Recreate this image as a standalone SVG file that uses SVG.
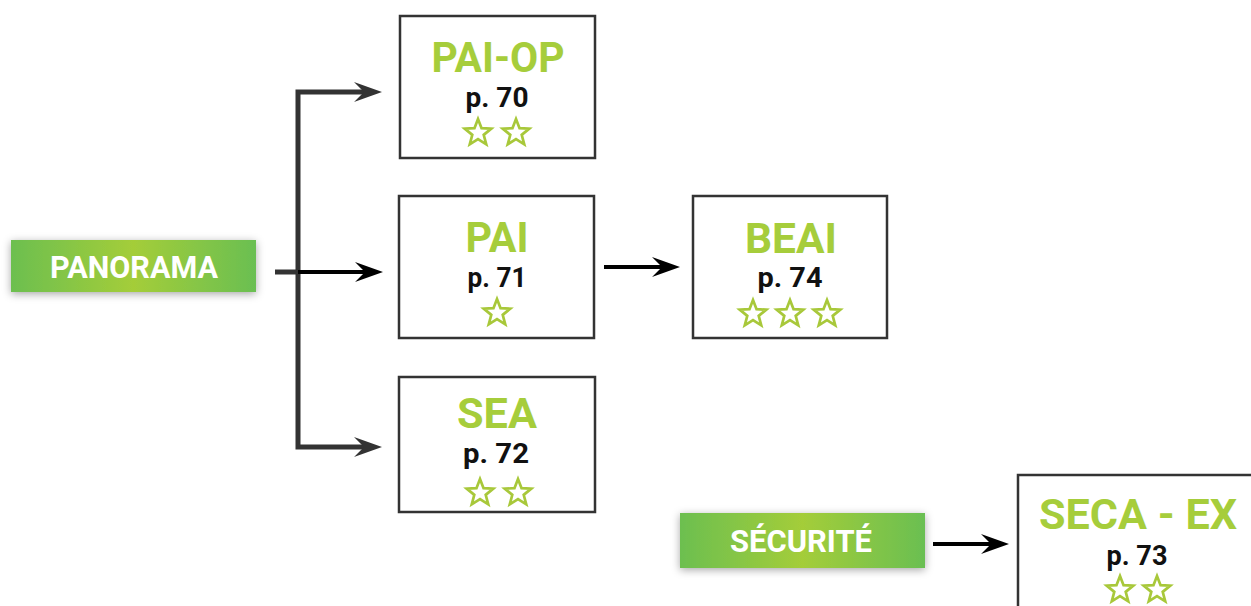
<svg xmlns="http://www.w3.org/2000/svg" width="1251" height="606" viewBox="0 0 1251 606">
<style>
.box{fill:#fff;stroke:#333;stroke-width:2.5}
.tag{fill:url(#g);filter:url(#sh)}
.tagt{font-family:Roboto,"Liberation Sans",sans-serif;font-weight:bold;font-size:32px;fill:#fff;text-anchor:middle}
.title{font-family:Roboto,"Liberation Sans",sans-serif;font-weight:bold;font-size:42px;fill:#a6cd3b;text-anchor:middle}
.pg{font-family:Roboto,"Liberation Sans",sans-serif;font-weight:bold;font-size:28px;fill:#111;text-anchor:middle}
.star{fill:none;stroke:#a8c83a;stroke-width:2.7;stroke-linejoin:miter}
.gl{fill:none;stroke:#333;stroke-width:5}
.bl{fill:none;stroke:#000;stroke-width:4}
</style>
<defs>
<linearGradient id="g" x1="0" y1="0" x2="1" y2="0">
<stop offset="0" stop-color="#6cbf50"/>
<stop offset="0.5" stop-color="#a4cd39"/>
<stop offset="1" stop-color="#6abf52"/>
</linearGradient>
<filter id="sh" x="-10%" y="-40%" width="120%" height="180%">
<feDropShadow dx="0" dy="2" stdDeviation="4" flood-color="#000" flood-opacity="0.35"/>
</filter>
<path id="st" class="star" d="M0,-14 L3.53,-4.85 L13.31,-4.33 L5.71,1.85 L8.23,11.33 L0,6 L-8.23,11.33 L-5.71,1.85 L-13.31,-4.33 L-3.53,-4.85 Z"/>
<marker id="ag" markerUnits="userSpaceOnUse" markerWidth="28" markerHeight="20" viewBox="0 0 28 20" refX="10" refY="10" orient="auto-start-reverse">
<path d="M0,0 L28,10 L0,20 L10,10 Z" fill="#333"/>
</marker>
<marker id="ab" markerUnits="userSpaceOnUse" markerWidth="28" markerHeight="20" viewBox="0 0 28 20" refX="10" refY="10" orient="auto">
<path d="M0,0 L28,10 L0,20 L10,10 Z" fill="#000"/>
</marker>
</defs>

<g id="connectors">
<path class="gl" d="M364,92 H298 V447 H364" marker-start="url(#ag)" marker-end="url(#ag)"/>
<path class="gl" d="M275,272 H298"/>
<path class="bl" d="M298,272 H365" marker-end="url(#ab)"/>
<path class="bl" d="M604,267 H662" marker-end="url(#ab)"/>
<path class="bl" d="M933,544 H991" marker-end="url(#ab)"/>
</g>

<g id="panorama">
<rect class="tag" x="11" y="240" width="245" height="52"/>
<text class="tagt" x="134" y="278" textLength="168" lengthAdjust="spacingAndGlyphs">PANORAMA</text>
</g>

<g id="securite">
<rect class="tag" x="680" y="513" width="245" height="55"/>
<text class="tagt" x="801" y="552" textLength="142" lengthAdjust="spacingAndGlyphs">SÉCURITÉ</text>
</g>

<g id="pai-op">
<rect class="box" x="400" y="16" width="195" height="142"/>
<text class="title" x="498" y="72" textLength="133" lengthAdjust="spacingAndGlyphs">PAI-OP</text>
<text class="pg" x="497" y="107" textLength="63" lengthAdjust="spacingAndGlyphs">p. 70</text>
<use href="#st" x="478" y="133"/>
<use href="#st" x="516" y="133"/>
</g>

<g id="pai">
<rect class="box" x="399" y="196" width="195" height="142"/>
<text class="title" x="497" y="252" textLength="63" lengthAdjust="spacingAndGlyphs">PAI</text>
<text class="pg" x="497" y="287" textLength="59" lengthAdjust="spacingAndGlyphs">p. 71</text>
<use href="#st" x="497" y="313"/>
</g>

<g id="sea">
<rect class="box" x="399" y="377" width="196" height="135"/>
<text class="title" x="497" y="428" textLength="80" lengthAdjust="spacingAndGlyphs">SEA</text>
<text class="pg" x="496" y="463" textLength="66" lengthAdjust="spacingAndGlyphs">p. 72</text>
<use href="#st" x="480" y="493"/>
<use href="#st" x="518" y="493"/>
</g>

<g id="beai">
<rect class="box" x="693" y="196" width="194" height="142"/>
<text class="title" x="791" y="253" textLength="92" lengthAdjust="spacingAndGlyphs">BEAI</text>
<text class="pg" x="790" y="287" textLength="65" lengthAdjust="spacingAndGlyphs">p. 74</text>
<use href="#st" x="753" y="314"/>
<use href="#st" x="790" y="314"/>
<use href="#st" x="827" y="314"/>
</g>

<g id="seca-ex">
<rect class="box" x="1018" y="475" width="250" height="150"/>
<text class="title" x="1138" y="529" textLength="198" lengthAdjust="spacingAndGlyphs">SECA - EX</text>
<text class="pg" x="1137" y="565" textLength="61" lengthAdjust="spacingAndGlyphs">p. 73</text>
<use href="#st" x="1120" y="590"/>
<use href="#st" x="1157" y="590"/>
</g>
</svg>
